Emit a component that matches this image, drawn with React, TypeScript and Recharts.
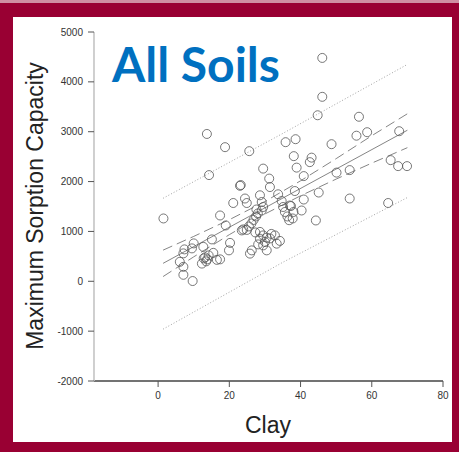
import { ScatterChart, Scatter, XAxis, YAxis } from "recharts";

// clay (%) and maximum sorption capacity for every soil sample
const clay = [
  46.1, 46.1, 44.8, 56.4, 13.7, 18.8, 25.6, 35.8, 38.6, 48.7, 55.7, 58.7, 67.7,
  38.1, 43.1, 42.6, 38.9, 29.5, 14.3, 65.3, 67.4, 69.9, 50.1, 53.8, 40.9, 31.2,
  23.2, 23.0, 31.4, 38.4, 45.1, 33.7, 28.6, 24.4, 21.1, 24.9, 34.7, 40.9, 53.8,
  64.6, 29.1, 29.5, 17.4, 1.5, 37.0, 40.3, 44.3, 35.6, 36.3, 36.8, 37.8, 38.0,
  35.1, 37.3, 26.2, 26.8, 27.5, 28.0, 29.1, 25.5, 24.9, 23.5, 19.0, 28.6, 29.5,
  30.5, 28.6, 28.1, 29.5, 30.5, 33.3, 32.8, 31.4, 27.3, 15.1, 10.0, 9.5, 7.4,
  7.1, 6.1, 7.1, 7.1, 9.7, 13.2, 13.8, 14.2, 13.5, 12.8, 17.4, 15.5, 12.3, 20.2,
  19.9, 23.9, 25.8, 26.3, 12.7, 16.5, 31.8, 34.2, 27.6, 30.0,
];
const capacity = [
  4480, 3700, 3330, 3300, 2955, 2690, 2610, 2790, 2850, 2750, 2920, 2990, 3010,
  2510, 2480, 2390, 2280, 2260, 2130, 2430, 2310, 2310, 2180, 2230, 2110, 2060,
  1930, 1915, 1890, 1810, 1780, 1745, 1725, 1660, 1570, 1570, 1610, 1640, 1660,
  1570, 1590, 1490, 1320, 1260, 1520, 1420, 1220, 1390, 1300, 1225, 1260, 1390,
  1490, 1510, 1160, 1230, 1300, 1360, 1420, 1100, 1030, 1020, 1120, 990, 920,
  875, 855, 740, 720, 620, 755, 920, 860, 980, 840, 760, 660, 640,
  560, 390, 290, 130, 5, 480, 440, 520, 400, 460, 440, 570, 355, 770,
  620, 1040, 555, 620, 690, 430, 950, 810, 1440, 790,
];

// fitted line, confidence band (dashed) and prediction band (dotted)
const fitClay = [1.4, 70];
const fitCapacity = [360, 3030];
const ciClay = [1.4, 10, 20, 30, 40, 50, 60, 70];
const ciUpper = [625, 900, 1235, 1600, 2015, 2460, 2920, 3360];
const ciLower = [95, 490, 935, 1350, 1715, 2050, 2370, 2680];
const piClay = [1.4, 35, 70];
const piUpper = [1665, 2965, 4350];
const piLower = [-960, 380, 1680];

const clayTicks = [0, 20, 40, 60, 80];
const capacityTicks = [-2000, -1000, 0, 1000, 2000, 3000, 4000, 5000];

const toPoints = (xs: number[], ys: number[]) => xs.map((x, i) => ({ x, y: ys[i] }));

const samples = toPoints(clay, capacity);
const fitLine = toPoints(fitClay, fitCapacity);
const ciUp = toPoints(ciClay, ciUpper);
const ciLow = toPoints(ciClay, ciLower);
const piUp = toPoints(piClay, piUpper);
const piLow = toPoints(piClay, piLower);

const AXIS_FONT = "'Liberation Sans', Arial, sans-serif";
const noMarker = () => <g />;

const OpenCircle = (props: any) => (
  <circle cx={props.cx} cy={props.cy} r={4.5} fill="none" stroke="#555" strokeWidth={0.8} />
);

export default function App() {
  return (
    <div style={{ position: "absolute", left: 0, top: 0, width: 459, height: 452, background: "#990033" }}>
      <div style={{ position: "absolute", left: 0, top: 0, width: 459, height: 3, background: "#cf8fa3" }} />
      <div style={{ position: "absolute", left: 13, top: 17, width: 439, height: 425, background: "#fff" }} />

      <div style={{ position: "absolute", left: 0, top: 0 }}>
        <ScatterChart width={459} height={452} margin={{ top: 32, right: 16, bottom: 0, left: 0 }}>
          <XAxis
            type="number"
            dataKey="x"
            domain={[-18, 80]}
            ticks={clayTicks}
            allowDataOverflow
            height={71}
            axisLine={{ stroke: "#444", strokeWidth: 1.3 }}
            tickLine={{ stroke: "#555" }}
            tickSize={6}
            tickMargin={5}
            tick={{ fontSize: 10, fill: "#333", fontFamily: AXIS_FONT }}
          />
          <XAxis
            xAxisId="top"
            orientation="top"
            type="number"
            domain={[-18, 80]}
            height={0}
            tick={false}
            tickLine={false}
            axisLine={{ stroke: "#888", strokeWidth: 1 }}
          />
          <YAxis
            type="number"
            dataKey="y"
            domain={[-2000, 5000]}
            ticks={capacityTicks}
            allowDataOverflow
            width={94}
            axisLine={{ stroke: "#c4c4c4", strokeWidth: 1.6 }}
            tickLine={{ stroke: "#555" }}
            tickSize={6}
            tickMargin={5}
            tick={{ fontSize: 10, fill: "#333", fontFamily: AXIS_FONT }}
          />
          <YAxis
            yAxisId="right"
            orientation="right"
            type="number"
            domain={[-2000, 5000]}
            width={0}
            tick={false}
            tickLine={false}
            axisLine={{ stroke: "#c4c4c4", strokeWidth: 1.6 }}
          />

          <Scatter data={piUp} shape={noMarker} line={{ stroke: "#999", strokeWidth: 0.9, strokeDasharray: "1 2" }} isAnimationActive={false} />
          <Scatter data={piLow} shape={noMarker} line={{ stroke: "#999", strokeWidth: 0.9, strokeDasharray: "1 2" }} isAnimationActive={false} />
          <Scatter data={ciUp} shape={noMarker} line={{ stroke: "#777", strokeWidth: 0.9, strokeDasharray: "10 5" }} isAnimationActive={false} />
          <Scatter data={ciLow} shape={noMarker} line={{ stroke: "#777", strokeWidth: 0.9, strokeDasharray: "10 5" }} isAnimationActive={false} />
          <Scatter data={fitLine} shape={noMarker} line={{ stroke: "#777", strokeWidth: 0.9 }} isAnimationActive={false} />
          <Scatter data={samples} shape={OpenCircle} isAnimationActive={false} />
        </ScatterChart>
      </div>

      <svg width={459} height={452} style={{ position: "absolute", left: 0, top: 0, pointerEvents: "none" }}>
        <text x={112} y={82} fontFamily="Lato, 'Open Sans', sans-serif" fontWeight={700} fontSize={48} fill="#0070C0">
          All Soils
        </text>
        <text
          x={0}
          y={0}
          transform="translate(43 206) rotate(-90)"
          textAnchor="middle"
          fontFamily={AXIS_FONT}
          fontSize={23}
          fill="#222"
        >
          Maximum Sorption Capacity
        </text>
        <text x={268} y={433} textAnchor="middle" fontFamily={AXIS_FONT} fontSize={23} fill="#222">
          Clay
        </text>
      </svg>
    </div>
  );
}
